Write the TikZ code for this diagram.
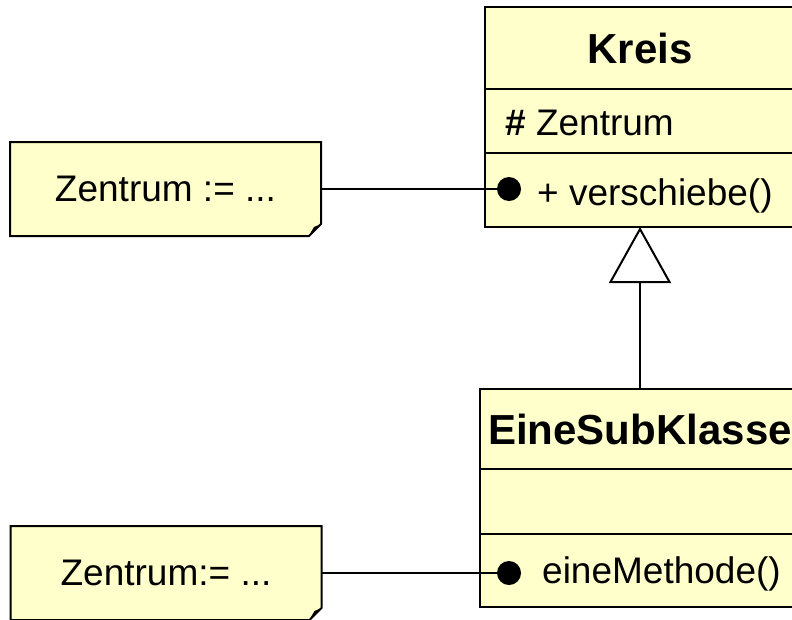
\documentclass[tikz,border=0pt]{standalone}
\usepackage{fontspec}
\setmainfont{Liberation Sans}
\usetikzlibrary{arrows.meta,backgrounds}
\definecolor{umlyellow}{RGB}{255,255,204}

\tikzset{
  part/.style={draw, line width=2pt, fill=umlyellow, inner sep=0pt, outer sep=0pt},
  classname/.style={part, font=\fontsize{42}{50}\selectfont\bfseries},
  member/.style={inner sep=0pt, font=\fontsize{37}{44}\selectfont},
  note/.style={inner sep=0pt, outer sep=0pt, minimum width=311pt, minimum height=94pt, font=\fontsize{37}{44}\selectfont},
  noteline/.style={line width=2pt, fill=umlyellow, line join=miter},
  dot/.style={circle, fill=black, inner sep=0pt, minimum size=24pt},
  link/.style={line width=2pt},
  inherit/.style={line width=2pt, -{Triangle[open, length=56pt, width=62pt]}}
}

\begin{document}
\begin{tikzpicture}[x=1pt, y=-1pt]
		\useasboundingbox (0,0) rectangle (792,619);

		% Kreis
		\node[classname, minimum width=310pt, minimum height=82pt] (kreis) at (640,48) {Kreis};
		\node[part, minimum width=310pt, minimum height=64pt] (kreisAttr) at (640,121) {};
		\node[part, minimum width=310pt, minimum height=74pt] (kreisOps) at (640,190) {};
		\node[member, anchor=base west] (zentrum) at (505,135) {{\bfseries\char`\#} Zentrum};
		\node[member, anchor=base west] (verschiebe) at (537,205) {+ verschiebe()};
		\node[dot] (dot1) at (509,189) {};

		% EineSubKlasse
		\node[classname, minimum width=320pt, minimum height=80pt] (sub) at (640,429) {EineSubKlasse};
		\node[part, minimum width=320pt, minimum height=65pt] (subAttr) at (640,501.5) {};
		\node[part, minimum width=320pt, minimum height=73pt] (subOps) at (640,570.5) {};
		\node[member, anchor=base west] (methode) at (542,583) {eineMethode()};
		\node[dot] (dot2) at (509,573) {};

		\draw[inherit] (sub) -- (kreisOps);

		% Notes
		\node[note] (note1) at (165.5,189) {Zentrum := ...};
		\node[note] (note2) at (166,573) {Zentrum:= ...};

		\begin{scope}[on background layer]
		\foreach \n in {note1, note2} {
			\draw[noteline] (\n.north west) -- (\n.north east) -- ([yshift=12pt]\n.south east)
				-- ([xshift=-12pt]\n.south east) -- (\n.south west) -- cycle;
			\fill ([yshift=12pt]\n.south east) -- ([xshift=-7pt, yshift=9pt]\n.south east)
				-- ([xshift=-10pt, yshift=4pt]\n.south east) -- ([xshift=-12pt]\n.south east) -- cycle;
		}
		\end{scope}

		\draw[link] (note1) -- (dot1);
		\draw[link] (note2) -- (dot2);

	\end{tikzpicture}
\end{document}
